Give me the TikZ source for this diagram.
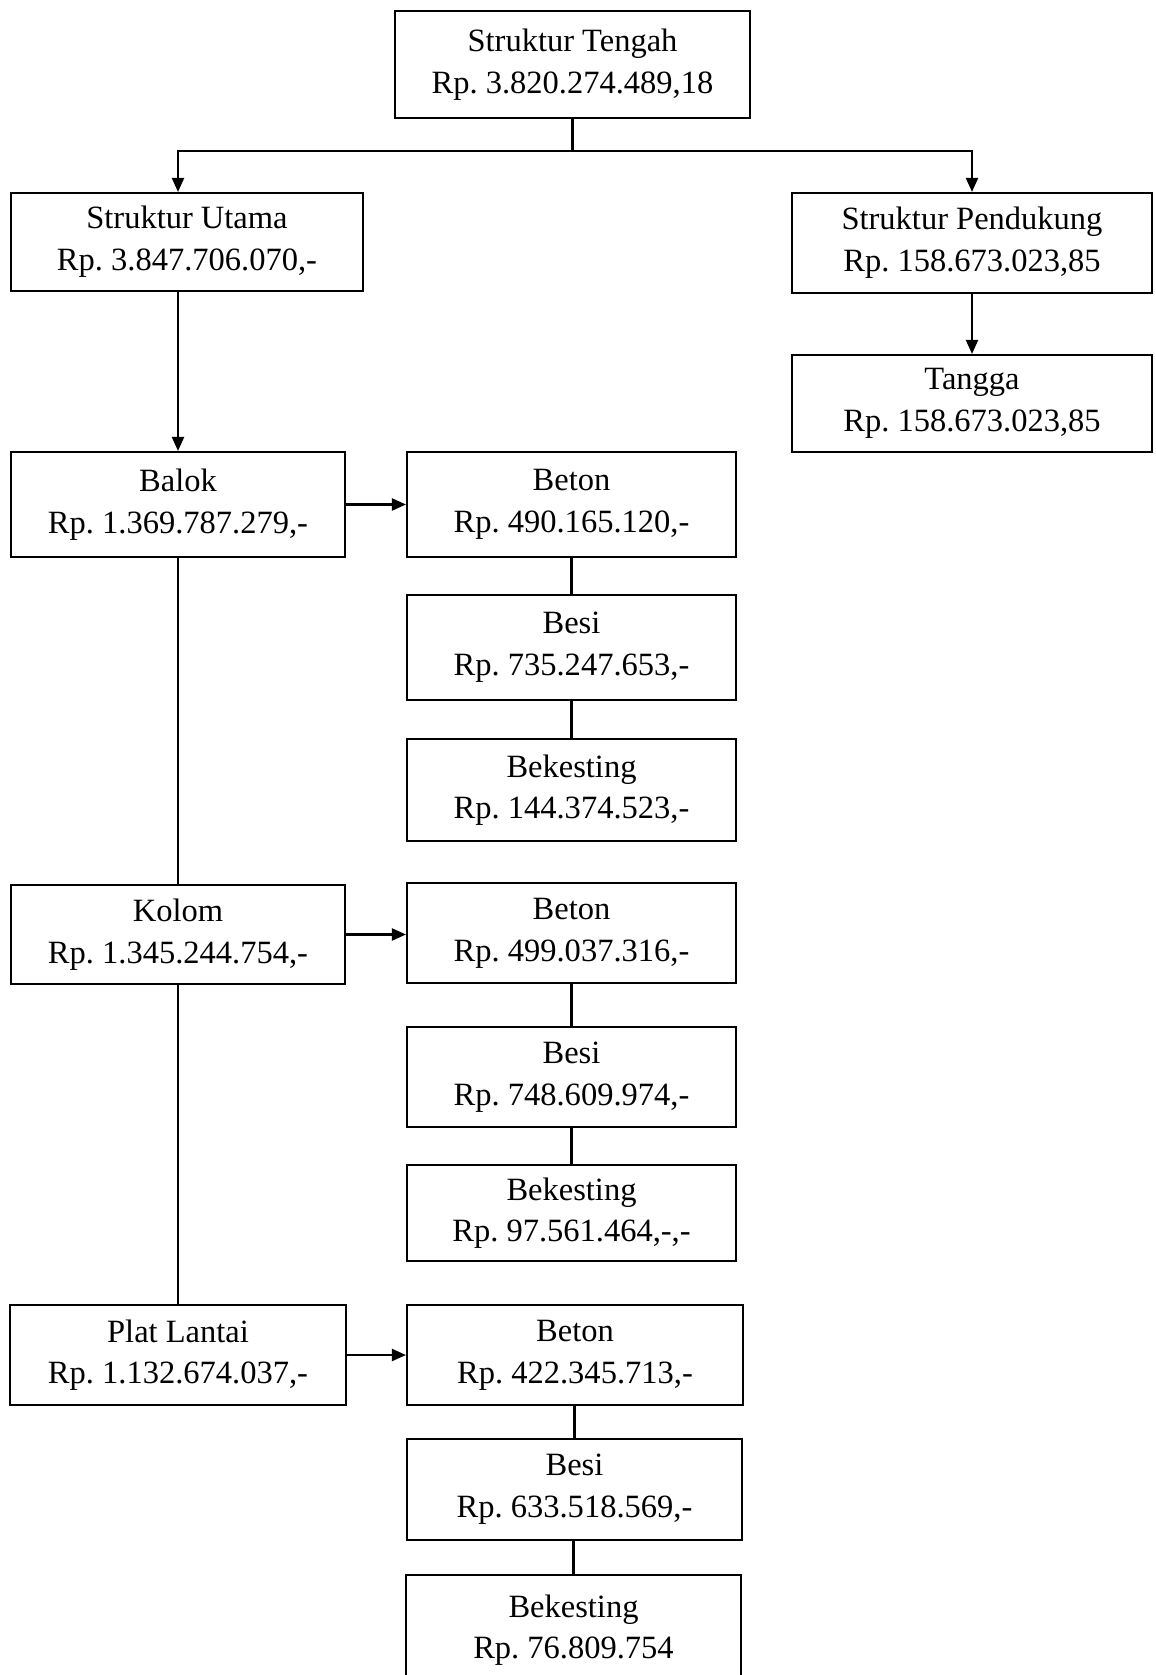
\documentclass[tikz,border=0pt]{standalone}
\usepackage{fontspec}
\setmainfont{Liberation Serif}
\usepackage{tikz}
\usetikzlibrary{arrows.meta, positioning, calc}
\frenchspacing

\begin{document}
\begin{tikzpicture}[
            x=0.02cm, y=-0.02cm,
            box/.style={draw, line width=1.2pt, inner sep=0pt, align=center, minimum width=329*0.02cm, minimum height=100*0.02cm, font=\fontsize{18.5}{23.7}\selectfont},
            arrow/.style={-{Triangle[length=2.8mm, width=2.4mm]}, line width=1.2pt},
            link/.style={line width=1.2pt}
        ]
        \useasboundingbox (0,0) rectangle (1155,1675);

        % Top level
        \node[box, minimum width=355*0.02cm, minimum height=107*0.02cm] (tengah) at (572.5, 64.5) {Struktur Tengah\\Rp. 3.820.274.489,18};

        % Second level
        \node[box, minimum width=352*0.02cm, minimum height=98*0.02cm] (utama) at (187, 242) {Struktur Utama\\Rp. 3.847.706.070,-};
        \node[box, minimum width=360*0.02cm] (pendukung) at (972, 243) {Struktur Pendukung\\Rp. 158.673.023,85};
        \node[box, minimum width=360*0.02cm, minimum height=97*0.02cm] (tangga) at (972, 403.5) {Tangga\\Rp. 158.673.023,85};

        % Balok and its parts
        \node[box, minimum width=334*0.02cm, minimum height=105*0.02cm] (balok) at (178, 504.5) {Balok\\Rp. 1.369.787.279,-};
        \node[box, minimum height=105*0.02cm] (betonB) at (571.5, 504.5) {Beton\\Rp. 490.165.120,-};
        \node[box, minimum height=105*0.02cm] (besiB) at (571.5, 647.5) {Besi\\Rp. 735.247.653,-};
        \node[box, minimum height=102*0.02cm] (bekB) at (571.5, 790) {Bekesting\\Rp. 144.374.523,-};

        % Kolom and its parts
        \node[box, minimum width=334*0.02cm, minimum height=99*0.02cm] (kolom) at (178, 934.5) {Kolom\\Rp. 1.345.244.754,-};
        \node[box] (betonK) at (571.5, 933) {Beton\\Rp. 499.037.316,-};
        \node[box] (besiK) at (571.5, 1077) {Besi\\Rp. 748.609.974,-};
        \node[box, minimum height=96*0.02cm] (bekK) at (571.5, 1213) {Bekesting\\Rp. 97.561.464,-,-};

        % Plat lantai and its parts
        \node[box, minimum width=336*0.02cm] (plat) at (178, 1355) {Plat Lantai\\Rp. 1.132.674.037,-};
        \node[box, minimum width=336*0.02cm] (betonP) at (575, 1355) {Beton\\Rp. 422.345.713,-};
        \node[box, minimum width=335*0.02cm, minimum height=101*0.02cm] (besiP) at (574.5, 1489.5) {Besi\\Rp. 633.518.569,-};
        \node[box, minimum width=335*0.02cm, minimum height=110*0.02cm] (bekP) at (573.5, 1630) {Bekesting\\Rp. 76.809.754};

        % Branching from the top
        \coordinate (split) at (tengah.south |- 0,151);
        \draw[link] (tengah.south) -- (split);
        \draw[arrow] (split) -| (balok.north |- utama.north);
        \draw[arrow] (split) -| (pendukung.north);
        \draw[arrow] (pendukung.south) -- (tangga.north);
        \draw[arrow] (balok.north |- utama.south) -- (balok.north);

        % Left column
        \draw[link] (balok.south) -- (kolom.north);
        \draw[link] (kolom.south) -- (plat.north);

        % Arrows to the parts
        \draw[arrow] (balok.east) -- (betonB.west);
        \draw[arrow] (kolom.east) -- (kolom.east -| betonK.west);
        \draw[arrow] (plat.east) -- (betonP.west);

        % Lines between the parts
        \draw[link] (betonB.south) -- (besiB.north);
        \draw[link] (besiB.south) -- (bekB.north);
        \draw[link] (betonK.south) -- (besiK.north);
        \draw[link] (besiK.south) -- (bekK.north);
        \draw[link] (betonP.south -| besiP.north) -- (besiP.north);
        \draw[link] (besiP.south -| bekP.north) -- (bekP.north);

        \end{tikzpicture}
\end{document}
